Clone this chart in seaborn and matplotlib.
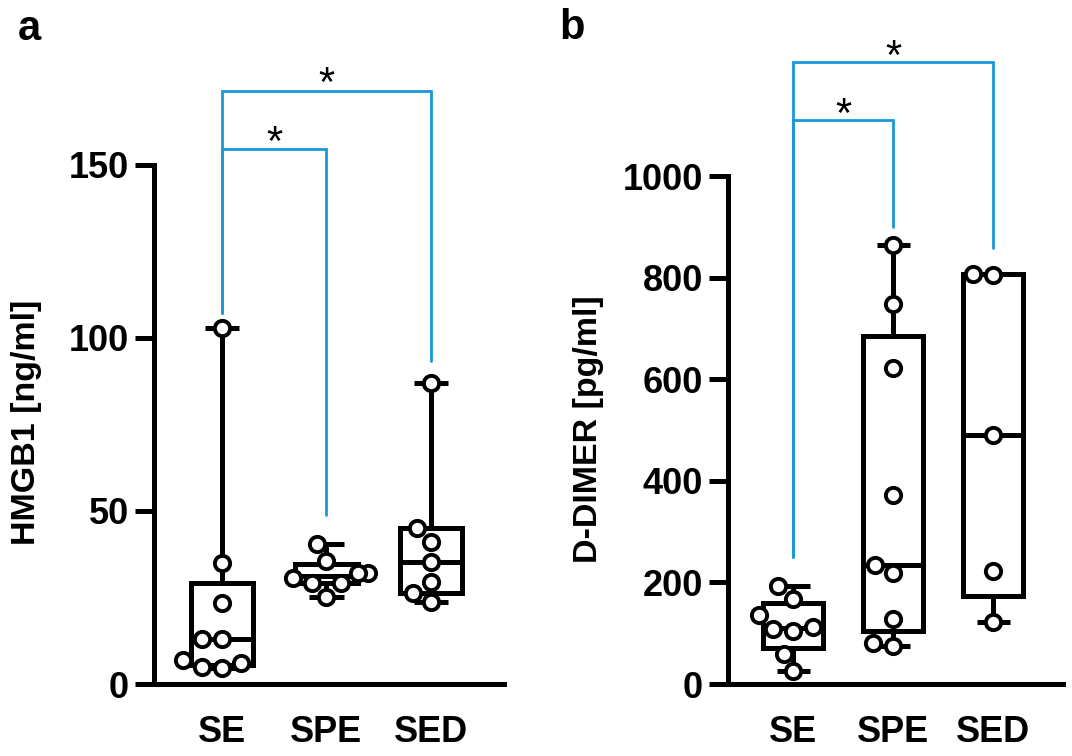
import matplotlib
matplotlib.use("Agg")
import matplotlib.pyplot as plt
import numpy as np
import pandas as pd
import seaborn as sns

# ---------------------------------------------------------------------------
# Data
# ---------------------------------------------------------------------------
GROUPS = ["SE", "SPE", "SED"]

HMGB1_SE = [102.8, 35.1, 23.3, 12.9, 12.9, 6.9, 6.0, 4.8, 4.5]
HMGB1_SPE = [40.5, 35.6, 32.2, 32.0, 30.5, 29.1, 29.1, 25.2]
HMGB1_SED = [86.9, 45.2, 41.1, 35.3, 29.6, 26.4, 23.8]

DDIMER_SE = [193, 167, 136, 113, 108, 105, 60, 26]
DDIMER_SPE = [864, 749, 623, 373, 234, 219, 127, 81, 75]
DDIMER_SED = [808, 805, 490, 223, 123]

# significance brackets: (group a, group b, bracket level, drop end a, drop end b)
HMGB1_BRACKETS = [(0, 1, 154.6, 107.2, 48.8), (0, 2, 171.5, 107.2, 93.4)]
DDIMER_BRACKETS = [(0, 1, 1110, 250, 900), (0, 2, 1224, 250, 858)]

BLUE = "#1b97d9"
LW = 3.6
W, H = 1072, 756


def to_frame(se, spe, sed):
    rows = []
    for g, vals in zip(GROUPS, [se, spe, sed]):
        rows += [{"group": g, "value": v} for v in vals]
    return pd.DataFrame(rows)


def box_stats(values):
    v = np.asarray(values, dtype=float)
    q1, med, q3 = np.percentile(v, [25, 50, 75], method="weibull")
    return {"med": med, "q1": q1, "q3": q3,
            "whislo": v.min(), "whishi": v.max(), "fliers": []}


def draw_panel(ax, df, yticks, brackets, star_off):
    stats = [box_stats(df.loc[df.group == g, "value"]) for g in GROUPS]
    line = dict(color="black", linewidth=LW, solid_capstyle="butt")
    ax.bxp(stats, positions=range(len(GROUPS)), widths=0.6, capwidths=0.33,
           patch_artist=True, showfliers=False, manage_ticks=False,
           boxprops=dict(facecolor="white", edgecolor="black", linewidth=LW),
           medianprops=line, whiskerprops=line, capprops=line, zorder=2)
    sns.swarmplot(data=df, x="group", y="value", order=GROUPS, ax=ax,
                  size=11, color="white", edgecolor="black", linewidth=2.8,
                  zorder=5, clip_on=False)

    ax.set_xlim(-0.65, 2.7)
    ax.set_ylim(yticks[0], yticks[-1])
    ax.set_yticks(yticks)
    ax.set_xlabel("")
    ax.set_ylabel("")
    sns.despine(ax=ax)
    for s in ["left", "bottom"]:
        ax.spines[s].set_linewidth(LW)
        ax.spines[s].set_color("black")
    ax.tick_params(axis="y", length=14, width=LW, pad=4, labelsize=26,
                   color="black", labelcolor="black")
    ax.tick_params(axis="x", length=0, pad=22, labelsize=26,
                   labelcolor="black")
    for t in ax.get_xticklabels() + ax.get_yticklabels():
        t.set_fontweight("bold")

    for a, b, top, ya, yb in brackets:
        ax.plot([a, a, b, b], [ya, top, top, yb], color=BLUE, lw=2.0,
                clip_on=False, zorder=1, solid_joinstyle="miter")
        ax.text((a + b) / 2, top + star_off, "*", ha="center", va="center",
                fontsize=30, color="black", clip_on=False)


sns.set_theme(style="ticks")
plt.rcParams["font.family"] = ["Liberation Sans", "DejaVu Sans"]
plt.rcParams["text.color"] = "black"

fig = plt.figure(figsize=(W / 100, H / 100), dpi=100)
ax_a = fig.add_axes([154 / W, 1 - 684 / H, 350 / W, (684 - 165) / H])
ax_b = fig.add_axes([728 / W, 1 - 684 / H, 335 / W, (684 - 176) / H])

draw_panel(ax_a, to_frame(HMGB1_SE, HMGB1_SPE, HMGB1_SED),
           [0, 50, 100, 150], HMGB1_BRACKETS, 1.6)
draw_panel(ax_b, to_frame(DDIMER_SE, DDIMER_SPE, DDIMER_SED),
           [0, 200, 400, 600, 800, 1000], DDIMER_BRACKETS, 9)

fig.text(27 / W, 1 - 422 / H, "HMGB1 [ng/ml]", rotation=90, ha="center",
         va="center", fontsize=24.5, fontweight="bold")
fig.text(588 / W, 1 - 429 / H, "D-DIMER [pg/ml]", rotation=90, ha="center",
         va="center", fontsize=24.5, fontweight="bold")
fig.text(29 / W, 1 - 29 / H, "a", ha="center", va="center", fontsize=30,
         fontweight="bold")
fig.text(572 / W, 1 - 28 / H, "b", ha="center", va="center", fontsize=30,
         fontweight="bold")

fig.savefig("out.png", dpi=100, facecolor="white")
